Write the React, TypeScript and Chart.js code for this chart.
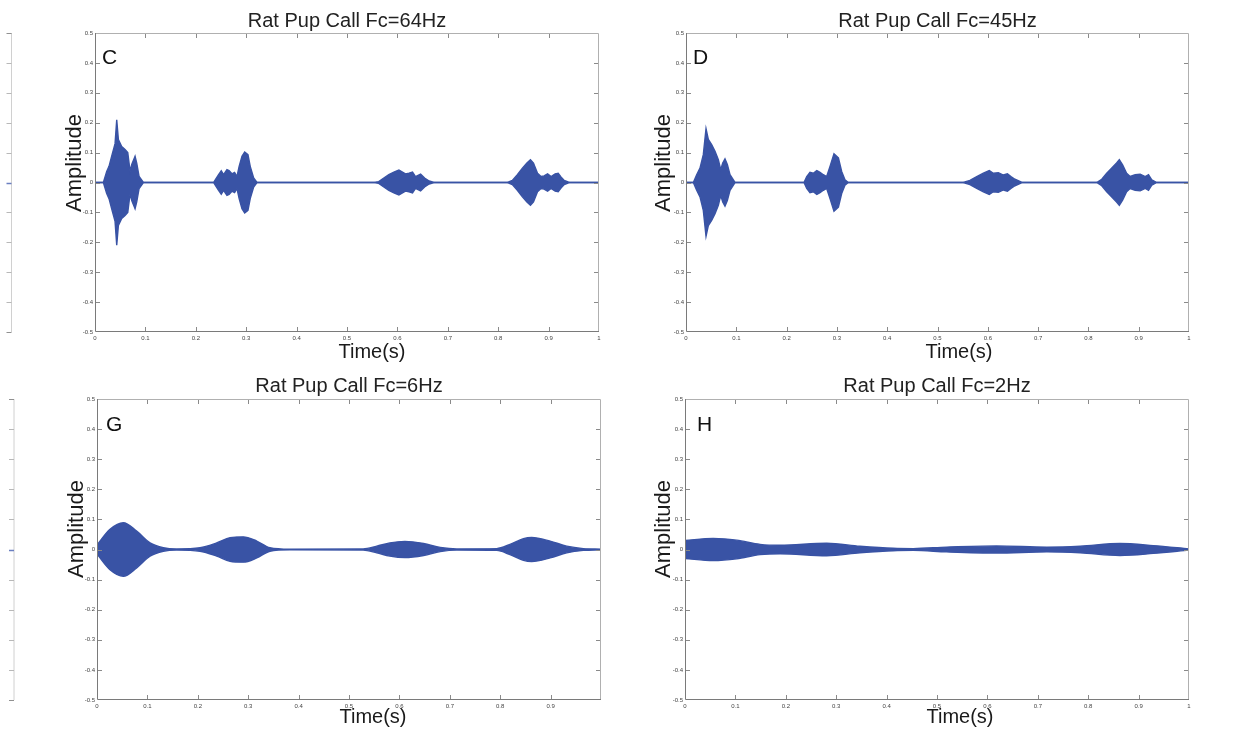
import React, { useEffect, useRef } from 'react';
import { Chart, registerables } from 'chart.js';

Chart.register(...registerables);

// ---------- data (upper envelope of the waveform; lower envelope mirrors it) ----------
const TIME_64 = [
  0, 0.0166, 0.0232, 0.0278, 0.0331, 0.0398, 0.0431, 0.0464, 0.053, 0.0596, 0.065, 0.0696, 0.0729, 0.0795, 0.0828, 0.0875, 0.096,
  0.2353, 0.2386, 0.2452, 0.2505, 0.2551, 0.2618, 0.266, 0.2717, 0.277, 0.2817, 0.286, 0.2916, 0.297, 0.3035, 0.308, 0.3148, 0.3214,
  0.553, 0.563, 0.573, 0.583, 0.593, 0.603, 0.61, 0.616, 0.623, 0.63, 0.636, 0.646, 0.654, 0.663, 0.673,
  0.8185, 0.828, 0.838, 0.848, 0.857, 0.864, 0.87, 0.878, 0.885, 0.891, 0.898, 0.905, 0.913, 0.919, 0.925, 0.931, 0.941, 1,
];
const AMP_64 = [
  0, 0, 0.037, 0.054, 0.088, 0.13, 0.21, 0.144, 0.12, 0.11, 0.1, 0.037, 0.06, 0.088, 0.065, 0.02, 0,
  0, 0.009, 0.026, 0.039, 0.026, 0.043, 0.04, 0.029, 0.034, 0.02, 0.054, 0.088, 0.102, 0.093, 0.054, 0.015, 0,
  0, 0.003, 0.015, 0.026, 0.035, 0.042, 0.035, 0.029, 0.031, 0.035, 0.02, 0.028, 0.015, 0.005, 0,
  0, 0.007, 0.026, 0.048, 0.065, 0.076, 0.065, 0.031, 0.02, 0.022, 0.029, 0.02, 0.029, 0.031, 0.018, 0.007, 0, 0,
];

const TIME_45 = [
  0, 0.0146, 0.0212, 0.0278, 0.0344, 0.0398, 0.0444, 0.051, 0.0577, 0.0643, 0.069, 0.073, 0.0775, 0.0822, 0.0875, 0.0974,
  0.2346, 0.24, 0.2465, 0.253, 0.26, 0.2664, 0.273, 0.2797, 0.2863, 0.2942, 0.303, 0.3095, 0.316, 0.3227,
  0.551, 0.5645, 0.578, 0.5912, 0.603, 0.611, 0.621, 0.631, 0.639, 0.646, 0.654, 0.668,
  0.8165, 0.8265, 0.8364, 0.846, 0.856, 0.8615, 0.868, 0.876, 0.883, 0.893, 0.903, 0.913, 0.9195, 0.926, 0.936, 1,
];
const AMP_45 = [
  0, 0, 0.026, 0.048, 0.093, 0.18, 0.144, 0.127, 0.104, 0.076, 0.043, 0.065, 0.079, 0.06, 0.026, 0,
  0, 0.02, 0.034, 0.031, 0.04, 0.034, 0.026, 0.02, 0.054, 0.096, 0.082, 0.037, 0.009, 0,
  0, 0.007, 0.02, 0.031, 0.04, 0.031, 0.033, 0.025, 0.029, 0.02, 0.011, 0,
  0, 0.011, 0.031, 0.048, 0.065, 0.076, 0.059, 0.031, 0.02, 0.026, 0.028, 0.02, 0.026, 0.009, 0, 0,
];

const TIME_6 = [
  0, 0.0258, 0.0522, 0.0787, 0.1052, 0.1316, 0.158, 0.2044, 0.2374, 0.264, 0.2903, 0.317, 0.343, 0.3829,
  0.528, 0.555, 0.581, 0.611, 0.648, 0.681, 0.714, 0.793, 0.8194, 0.846, 0.8624, 0.899, 0.932, 0.965, 1,
];
const AMP_6 = [
  0.015, 0.067, 0.089, 0.061, 0.022, 0.006, 0.002, 0.006, 0.022, 0.039, 0.042, 0.028, 0.006, 0.001,
  0.002, 0.011, 0.022, 0.027, 0.02, 0.007, 0.002, 0.003, 0.017, 0.036, 0.04, 0.028, 0.011, 0.003, 0.001,
];

const TIME_2 = [0, 0.056, 0.1025, 0.149, 0.1885, 0.281, 0.347, 0.413, 0.453, 0.519, 0.618, 0.718, 0.784, 0.863, 0.929, 1];
const AMP_2 = [0.03, 0.037, 0.031, 0.017, 0.014, 0.021, 0.011, 0.004, 0.003, 0.008, 0.012, 0.008, 0.011, 0.02, 0.013, 0.002];

const TITLES = ['Rat Pup Call Fc=64Hz', 'Rat Pup Call Fc=45Hz', 'Rat Pup Call Fc=6Hz', 'Rat Pup Call Fc=2Hz'];
const LETTERS = ['C', 'D', 'G', 'H'];
const X_TITLE = 'Time(s)';
const Y_TITLE = 'Amplitude';
const X_RANGE = [0, 1];
const Y_RANGE = [-0.5, 0.5];
const TICK_STEP = 0.1;

// ---------- styling / layout ----------
const FONT = '"Liberation Sans", Arial, Helvetica, sans-serif';
const BLUE = '#3953a5';

type Panel = {
  title: string;
  letter: string;
  times: number[];
  amps: number[];
  smooth: boolean;
  x0: number; y0: number; w: number; h: number;
  l: number; r: number; t: number; b: number;
  titlePad: [number, number];
  letterPos: [number, number];
  yTitlePos: [number, number];
  xTitlePos: [number, number];
  edgeX: number | null;
  hideLastX: boolean;
};

const PANELS: Panel[] = [
  { title: TITLES[0], letter: LETTERS[0], times: TIME_64, amps: AMP_64, smooth: false,
    x0: 0, y0: 0, w: 622, h: 369, l: 95, r: 599, t: 33, b: 332,
    titlePad: [11, 2], letterPos: [102, 64], yTitlePos: [75, 163], xTitlePos: [372, 352], edgeX: 11.5, hideLastX: false },
  { title: TITLES[1], letter: LETTERS[1], times: TIME_45, amps: AMP_45, smooth: false,
    x0: 622, y0: 0, w: 622, h: 369, l: 686, r: 1189, t: 33, b: 332,
    titlePad: [11, 2], letterPos: [693, 64], yTitlePos: [664, 163], xTitlePos: [959, 352], edgeX: null, hideLastX: false },
  { title: TITLES[2], letter: LETTERS[2], times: TIME_6, amps: AMP_6, smooth: true,
    x0: 0, y0: 369, w: 622, h: 369, l: 97, r: 601, t: 399, b: 700,
    titlePad: [7, 3], letterPos: [106, 431], yTitlePos: [77, 529], xTitlePos: [373, 717], edgeX: 14, hideLastX: true },
  { title: TITLES[3], letter: LETTERS[3], times: TIME_2, amps: AMP_2, smooth: true,
    x0: 622, y0: 369, w: 622, h: 369, l: 685, r: 1189, t: 399, b: 700,
    titlePad: [7, 3], letterPos: [697, 431], yTitlePos: [664, 529], xTitlePos: [960, 717], edgeX: null, hideLastX: false },
];

const fmt = (v: number) => {
  const r = Math.round(v * 10) / 10;
  return (Object.is(r, -0) ? 0 : r).toString();
};

const decoPlugin = {
  id: 'panelDeco',
  afterDraw(chart: any, _args: any, opts: any) {
    const { ctx, chartArea: ca, scales } = chart;
    const xs = scales.x;
    const ys = scales.y;
    ctx.save();
    // inward ticks
    ctx.strokeStyle = '#8a8a8a';
    ctx.lineWidth = 1;
    const tl = 5;
    ctx.beginPath();
    xs.ticks.forEach((tk: any, i: number) => {
      if (i === 0 || i === xs.ticks.length - 1) return;
      const px = Math.round(xs.getPixelForValue(tk.value)) + 0.5;
      ctx.moveTo(px, ca.bottom); ctx.lineTo(px, ca.bottom - tl);
      ctx.moveTo(px, ca.top); ctx.lineTo(px, ca.top + tl);
    });
    ys.ticks.forEach((tk: any, i: number) => {
      if (i === 0 || i === ys.ticks.length - 1) return;
      const py = Math.round(ys.getPixelForValue(tk.value)) + 0.5;
      ctx.moveTo(ca.left, py); ctx.lineTo(ca.left + tl, py);
      ctx.moveTo(ca.right, py); ctx.lineTo(ca.right - tl, py);
    });
    ctx.stroke();
    // box
    ctx.strokeStyle = '#b0b0b0';
    ctx.beginPath();
    ctx.moveTo(Math.round(ca.left) + 0.5, ca.top + 0.5);
    ctx.lineTo(Math.round(ca.right) - 0.5, ca.top + 0.5);
    ctx.lineTo(Math.round(ca.right) - 0.5, ca.bottom);
    ctx.stroke();
    ctx.strokeStyle = '#7a7a7a';
    ctx.beginPath();
    ctx.moveTo(Math.round(ca.left) + 0.5, ca.top);
    ctx.lineTo(Math.round(ca.left) + 0.5, Math.round(ca.bottom) - 0.5);
    ctx.lineTo(ca.right, Math.round(ca.bottom) - 0.5);
    ctx.stroke();

    // edge remnant of a neighbouring axis
    if (opts.edgeX != null) {
      const ex = opts.edgeX - opts.x0;
      ctx.strokeStyle = '#d0d0d0';
      ctx.beginPath();
      ctx.moveTo(ex, ca.top); ctx.lineTo(ex, ca.bottom);
      ctx.stroke();
      ys.ticks.forEach((tk: any, i: number) => {
        const py = Math.round(ys.getPixelForValue(tk.value)) + 0.5;
        const isZero = Math.abs(tk.value) < 1e-9;
        const isEnd = i === 0 || i === ys.ticks.length - 1;
        ctx.strokeStyle = isZero ? '#6a7fc0' : isEnd ? '#909090' : '#b8b8b8';
        ctx.lineWidth = isZero ? 1.5 : 1;
        ctx.beginPath();
        ctx.moveTo(ex - 5, py); ctx.lineTo(ex, py);
        ctx.stroke();
      });
    }

    // texts
    ctx.fillStyle = '#111';
    ctx.font = `21px ${FONT}`;
    ctx.textAlign = 'left';
    ctx.textBaseline = 'alphabetic';
    ctx.fillText(opts.letter, opts.letterPos[0] - opts.x0, opts.letterPos[1] - opts.y0);

    ctx.fillStyle = '#1a1a1a';
    ctx.font = `20px ${FONT}`;
    ctx.textAlign = 'center';
    ctx.textBaseline = 'middle';
    ctx.fillText(opts.xTitle, opts.xTitlePos[0] - opts.x0, opts.xTitlePos[1] - opts.y0);

    ctx.save();
    ctx.translate(opts.yTitlePos[0] - opts.x0, opts.yTitlePos[1] - opts.y0);
    ctx.rotate(-Math.PI / 2);
    ctx.font = `22px ${FONT}`;
    ctx.fillText(opts.yTitle, 0, 0);
    ctx.restore();

    ctx.restore();
  },
};

function PanelChart({ p }: { p: Panel }) {
  const ref = useRef<HTMLCanvasElement | null>(null);
  useEffect(() => {
    if (!ref.current) return;
    const upper = p.times.map((t, i) => ({ x: t, y: p.amps[i] }));
    const lower = p.times.map((t, i) => ({ x: t, y: -p.amps[i] }));
    const common = {
      borderColor: BLUE,
      backgroundColor: BLUE,
      borderWidth: 1.4,
      pointRadius: 0,
      tension: p.smooth ? 0.4 : 0,
      cubicInterpolationMode: p.smooth ? 'monotone' : 'default',
    };
    const chart = new Chart(ref.current, {
      type: 'line',
      data: {
        datasets: [
          { ...common, data: upper, fill: '+1' } as any,
          { ...common, data: lower, fill: false } as any,
        ],
      },
      options: {
        responsive: false,
        animation: false,
        devicePixelRatio: 1,
        layout: { padding: { left: 0, right: p.x0 + p.w - p.r, top: 0, bottom: 0 } },
        plugins: {
          legend: { display: false },
          tooltip: { enabled: false },
          title: {
            display: true,
            text: p.title,
            fullSize: false,
            color: '#222',
            font: { family: FONT, size: 20, lineHeight: 1, weight: 'normal' },
            padding: { top: p.titlePad[0], bottom: p.titlePad[1] },
          },
          panelDeco: {
            letter: p.letter,
            letterPos: p.letterPos,
            xTitle: X_TITLE,
            yTitle: Y_TITLE,
            xTitlePos: p.xTitlePos,
            yTitlePos: p.yTitlePos,
            edgeX: p.edgeX,
            x0: p.x0,
            y0: p.y0,
          },
        } as any,
        scales: {
          x: {
            type: 'linear',
            min: X_RANGE[0],
            max: X_RANGE[1],
            grid: { display: false, drawTicks: false },
            border: { display: false },
            ticks: {
              stepSize: TICK_STEP,
              autoSkip: false,
              maxRotation: 0,
              padding: 3,
              color: '#444',
              font: { family: FONT, size: 6 },
              callback: (v: any, i: number, arr: any[]) => {
                if (p.hideLastX && i === arr.length - 1) return '';
                return fmt(Number(v));
              },
            },
            afterFit: (s: any) => { s.height = p.y0 + p.h - p.b; },
          },
          y: {
            type: 'linear',
            min: Y_RANGE[0],
            max: Y_RANGE[1],
            grid: { display: false, drawTicks: false },
            border: { display: false },
            ticks: {
              stepSize: TICK_STEP,
              autoSkip: false,
              padding: 2,
              color: '#444',
              font: { family: FONT, size: 6 },
              callback: (v: any) => fmt(Number(v)),
            },
            afterFit: (s: any) => { s.width = p.l - p.x0; },
          },
        },
      },
      plugins: [decoPlugin],
    } as any);
    return () => chart.destroy();
  }, [p]);
  return (
    <canvas
      ref={ref}
      width={p.w}
      height={p.h}
      style={{ position: 'absolute', left: p.x0, top: p.y0, width: p.w, height: p.h }}
    />
  );
}

export default function App() {
  return (
    <div style={{ position: 'absolute', left: 0, top: 0, width: 1244, height: 738, background: '#fff', overflow: 'hidden' }}>
      {PANELS.map((p, i) => (
        <PanelChart key={i} p={p} />
      ))}
    </div>
  );
}
